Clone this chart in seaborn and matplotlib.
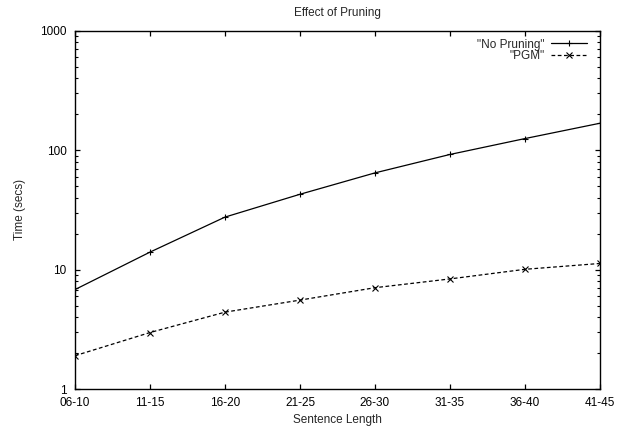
import matplotlib
matplotlib.use("Agg")
import matplotlib.pyplot as plt
import matplotlib.ticker as mticker
import numpy as np
import pandas as pd
import seaborn as sns

# Sentence-length buckets and timing results (seconds)
lengths = ["06-10", "11-15", "16-20", "21-25", "26-30", "31-35", "36-40", "41-45"]
no_pruning = [6.8, 14.0, 27.5, 42.7, 64.5, 92.0, 125.0, 168.0]
pgm = [1.9, 2.97, 4.4, 5.55, 7.05, 8.35, 10.05, 11.25]
series_names = ['"No Pruning"', '"PGM"']
y_ticks = [1, 10, 100, 1000]

df = pd.DataFrame({
    "pos": list(range(len(lengths))) * 2,
    "time": no_pruning + pgm,
    "series": [series_names[0]] * len(lengths) + [series_names[1]] * len(lengths),
})

sns.set_style("ticks")
plt.rcParams["font.family"] = ["Liberation Sans", "DejaVu Sans"]
plt.rcParams["axes.linewidth"] = 1.0
plt.rcParams["axes.edgecolor"] = "black"

FS = 8.5

fig = plt.figure(figsize=(6.27, 4.30), dpi=100)
ax = fig.add_axes([75 / 627, 1 - 389 / 430, 525 / 627, 358.3 / 430])

sns.lineplot(
    data=df, x="pos", y="time", hue="series", style="series",
    palette={series_names[0]: "black", series_names[1]: "black"},
    markers={series_names[0]: "+", series_names[1]: "x"},
    dashes={series_names[0]: "", series_names[1]: (3, 2)},
    markersize=5, markeredgewidth=0.8, markeredgecolor="black", linewidth=0.9,
    ax=ax, legend=True,
)

ax.set_yscale("log")
ax.set_ylim(1, 1000)
ax.set_xlim(0, len(lengths) - 1)
ax.set_yticks(y_ticks)
ax.yaxis.set_major_formatter(mticker.FixedFormatter([str(v) for v in y_ticks]))
ax.yaxis.set_minor_locator(mticker.LogLocator(base=10, subs=np.arange(2, 10)))
ax.yaxis.set_minor_formatter(mticker.NullFormatter())
ax.set_xticks(range(len(lengths)))
ax.set_xticklabels(lengths)

ax.tick_params(which="both", direction="in", top=True, right=True,
               labelsize=FS, colors="black")
ax.tick_params(axis="y", which="major", pad=6)
ax.tick_params(axis="x", which="major", pad=6)
ax.tick_params(which="major", length=3.5, width=0.9)
ax.tick_params(which="minor", length=2.0, width=0.8)
ax.tick_params(axis="x", which="minor", top=False, bottom=False)

ax.set_xlabel("Sentence Length", fontsize=FS, labelpad=3)
ax.set_ylabel("Time (secs)", fontsize=FS, labelpad=10)
fig.suptitle("Effect of Pruning", fontsize=FS, x=337.5 / 627, y=1 - 7 / 430, va="top")

for s in ax.spines.values():
    s.set_visible(True)
    s.set_linewidth(1.0)

handles, labels = ax.get_legend_handles_labels()
for h in handles:
    h.set_markeredgecolor("black")
leg = ax.legend(handles, labels, loc="upper right", bbox_to_anchor=(0.975, 0.978),
                frameon=False, markerfirst=False, fontsize=FS, handlelength=3.0,
                handletextpad=0.6, labelspacing=-0.05, borderpad=0.0, borderaxespad=0.0)
for t in leg.get_texts():
    t.set_ha("right")

fig.savefig("out.png", dpi=100)
